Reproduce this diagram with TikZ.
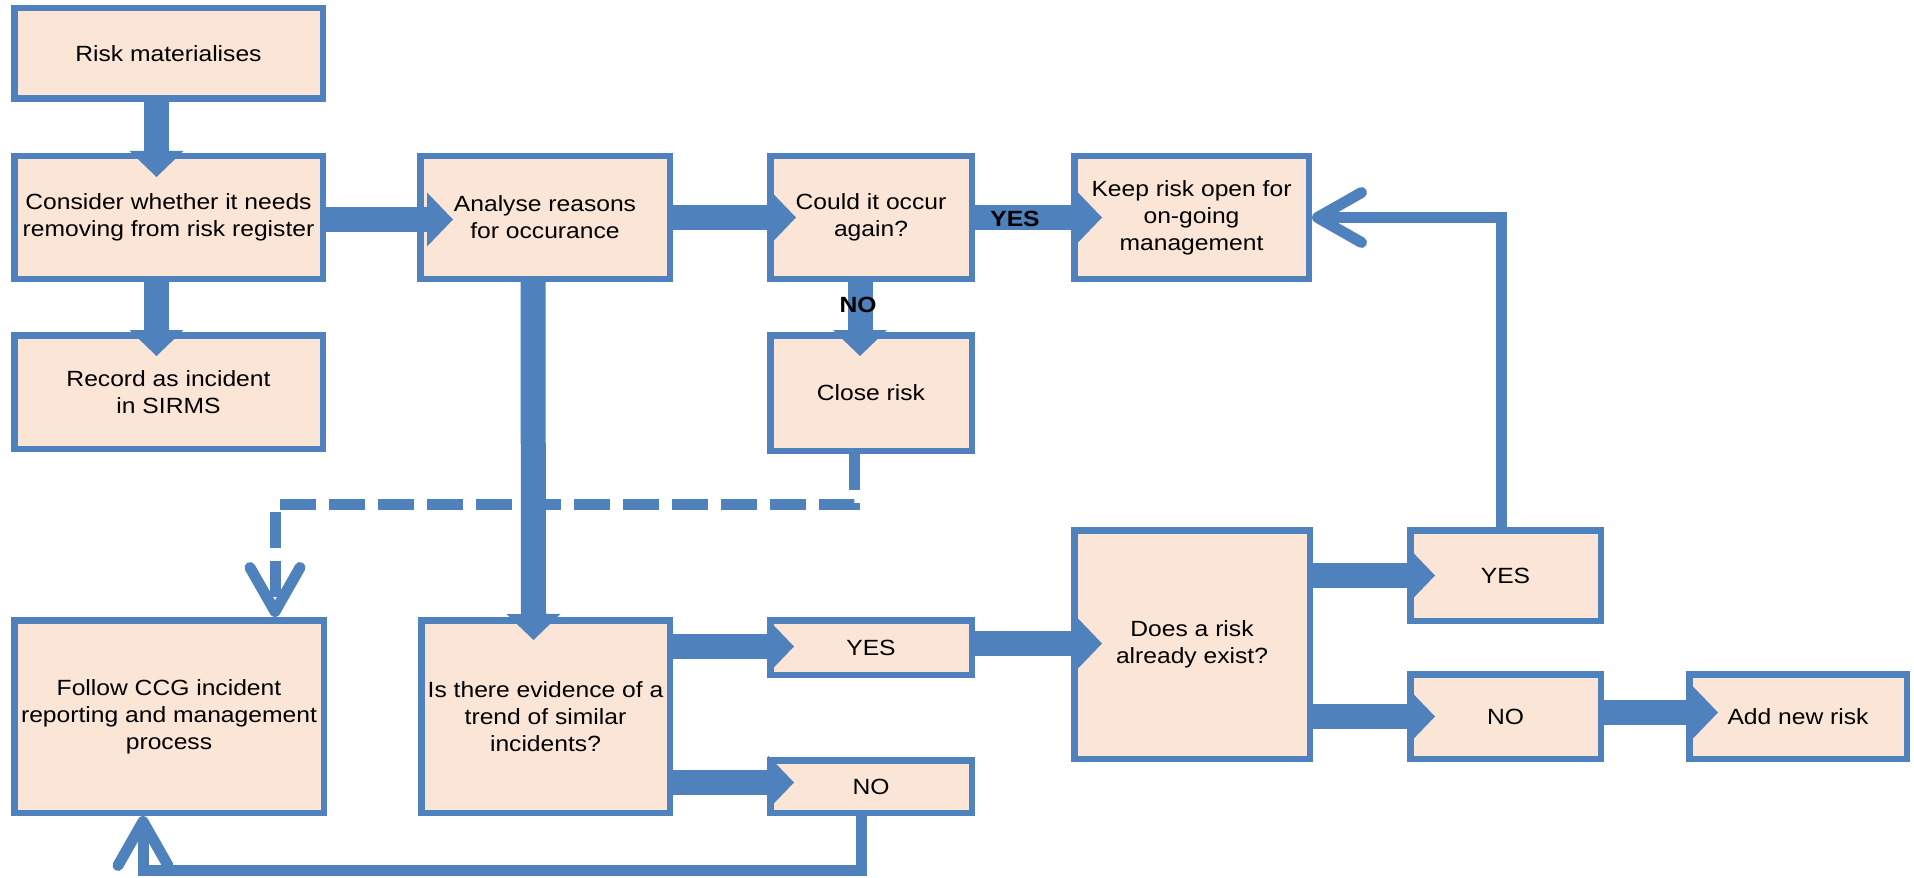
\documentclass[tikz,border=0pt]{standalone}
\usepackage{fontspec}
\setmainfont[FakeStretch=1.12]{Liberation Sans}
\usetikzlibrary{arrows.meta}
\definecolor{bordc}{HTML}{4F81BD}
\definecolor{fillc}{HTML}{FBE5D6}
\begin{document}
\begin{tikzpicture}[x=0.5pt,y=-0.5pt,
  box/.style={draw=bordc, fill=fillc, line width=3.25pt, inner sep=0pt, align=center,
    font=\fontsize{11}{13.5}\selectfont, text=black},
  sz/.style 2 args={minimum width=#1, minimum height=#2},
  blk/.style={draw=bordc, line width=12.5pt,
    -{Triangle[length=13pt 0 0, width=27pt 0 0, line width=0pt]}},
  thinline/.style={draw=bordc, line width=5.5pt},
  vhead/.style={-{Straight Barb[length=22pt 0 0, width=25pt 0 0, round]}},
  lbl/.style={font=\bfseries\fontsize{11}{13}\selectfont, text=black, inner sep=0pt}
]
\useasboundingbox (0,0) rectangle (1914,877);

% boxes
\node[box, sz={154.25pt}{45.25pt}]   (risk)     at (168.5,53.5)  {Risk materialises};
\node[box, sz={154.25pt}{61.25pt}]   (consider) at (168.5,217.5) {Consider whether it needs\\removing from risk register};
\node[box, sz={124.75pt}{61.25pt}] (analyse)  at (545,217.5)   {Analyse reasons\\for occurance};
\node[box, sz={100.75pt}{61.25pt}] (could)    at (871,217.5)   {Could it occur\\again?};
\node[box, sz={117.25pt}{61.25pt}]   (keep)     at (1191.5,217.5){Keep risk open for\\on-going\\management};
\node[box, sz={154.25pt}{56.75pt}] (record)   at (168.5,392)   {Record as incident\\in SIRMS};
\node[box, sz={100.75pt}{57.75pt}] (close)  at (871,393)     {Close risk};
\node[box, sz={154.75pt}{96.25pt}] (follow)   at (169,716.5)   {Follow CCG incident\\reporting and management\\process};
\node[box, sz={124.25pt}{96.25pt}]   (evidence) at (545.5,716.5) {Is there evidence of a\\trend of similar\\incidents?};
\node[box, sz={100.75pt}{27.25pt}] (yes1)     at (871,647.5)   {YES};
\node[box, sz={100.75pt}{26.25pt}] (no1)      at (871,786.5)   {NO};
\node[box, sz={117.75pt}{114.25pt}] (exist)   at (1192,644.5)  {Does a risk\\already exist?};
\node[box, sz={95.25pt}{45.25pt}]    (yes2)     at (1505.5,575.5){YES};
\node[box, sz={95.25pt}{42.25pt}]    (no2)      at (1505.5,716.5){NO};
\node[box, sz={108.75pt}{42.25pt}] (add)      at (1798,716.5)  {Add new risk};

% block arrows
\draw[blk, shorten >=-12pt] ([xshift=-6pt]risk.south) -- ([xshift=-6pt]consider.north);
\draw[blk, shorten >=-12pt] ([xshift=-6pt]consider.south) -- ([xshift=-6pt]record.north);
\draw[blk, shorten >=-18pt] ([yshift=-1pt]consider.east) -- ([yshift=-1pt]analyse.west);
\draw[blk, shorten >=-14.5pt] (analyse.east) -- (could.west);
\draw[blk, shorten >=-15.5pt] (could.east) -- (keep.west);
\draw[blk, shorten >=-12pt] ([xshift=-5.5pt]could.south) -- ([xshift=-5.5pt]close.north);
\draw[blk, shorten >=-11.5pt] ([xshift=-6pt]analyse.south) -- ([xshift=-6pt]evidence.north);
\draw[blk, shorten >=-13.5pt] ([yshift=0.5pt]evidence.east |- yes1.west) -- ([yshift=0.5pt]yes1.west);
\draw[blk, shorten >=-13.5pt] ([yshift=2pt]evidence.east |- no1.west) -- ([yshift=2pt]no1.west);
\draw[blk, shorten >=-15.5pt] ([yshift=2pt]yes1.east) -- ([yshift=2pt]yes1.east -| exist.west);
\draw[blk, shorten >=-14pt] (exist.east |- yes2.west) -- (yes2.west);
\draw[blk, shorten >=-14pt] (exist.east |- no2.west) -- (no2.west);
\draw[blk, shorten >=-16pt] ([yshift=2pt]no2.east) -- ([yshift=2pt]add.west);

% labels on arrows
\node[lbl] (yeslbl) at (1015,219) {YES};
\node[lbl] (nolbl)  at (858,305)  {NO};

% thin connectors
\coordinate (bot) at (0,870);
\coordinate (dmid) at (0,504);
\draw[thinline, vhead] ([xshift=-2pt]yes2.north) |- (keep.east);
\draw[thinline, vhead] ([xshift=-5pt]no1.south) -- ([xshift=-5pt]no1.south |- bot) -| ([xshift=-13pt]follow.south);
\draw[thinline, vhead, dash pattern=on 18pt off 6.5pt] ([xshift=-8.5pt]close.south) -- ([xshift=-8.5pt]close.south |- dmid) -| ([xshift=53pt]follow.north);
\end{tikzpicture}
\end{document}
